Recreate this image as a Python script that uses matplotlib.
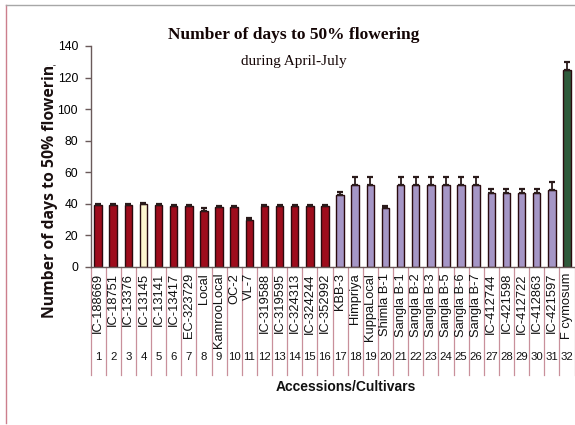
import matplotlib
matplotlib.use("Agg")
import matplotlib.pyplot as plt
from matplotlib.patches import Rectangle
from matplotlib.lines import Line2D

# Accessions / cultivars and days to 50% flowering (mean, upper error)
accessions = ["IC-188669", "IC-18751", "IC-13376", "IC-13145", "IC-13141", "IC-13417",
              "EC-323729", "Local", "KamrooLocal", "OC-2", "VL-7", "IC-319588",
              "IC-319595", "IC-324313", "IC-324244", "IC-352992", "KBB-3", "Himpriya",
              "KuppaLocal", "Shimla B-1", "Sangla B-1", "Sangla B-2", "Sangla B-3",
              "Sangla B-5", "Sangla B-6", "Sangla B-7", "IC-412744", "IC-421598",
              "IC-412722", "IC-412863", "IC-421597", "F cymosum"]
numbers = [str(i) for i in range(1, 33)]
days = [39, 39, 39, 39.5, 39, 38.5, 38.5, 35.6, 37.8, 38, 29.7, 38.5,
        38.5, 38.5, 38.5, 38.5, 45.5, 52, 52, 37, 52, 52, 52,
        52, 52, 52, 47, 47, 47, 47, 48.7, 125]
errors = [0.6, 0.6, 0.6, 0.6, 0.6, 0.6, 0.6, 1.9, 0.5, 0.5, 1.4, 0.6,
          0.6, 0.6, 0.6, 0.6, 2.1, 5.1, 5.1, 1.5, 5.1, 5.1, 5.1,
          5.1, 5.1, 5.1, 2.1, 2.1, 2.1, 2.1, 4.9, 4.8]
groups = ["red"] * 3 + ["pale"] + ["red"] * 12 + ["lav"] * 15 + ["green"]
yticks = [0, 20, 40, 60, 80, 100, 120, 140]

palette = {"red": "#9e0c1c", "pale": "#fdf6cf", "lav": "#a596c6", "green": "#2f5a3b"}
colors = [palette[g] for g in groups]

W, H = 575, 425
fig = plt.figure(figsize=(W / 100, H / 100), dpi=100)
fig.patch.set_facecolor("white")

def fx(px):
    return px / W

def fy(py):
    return (H - py) / H

ax_left, ax_right, ax_top, ax_bot = 90.5, 574.5, 46, 266.7
ax = fig.add_axes([fx(ax_left), fy(ax_bot), fx(ax_right - ax_left), (ax_bot - ax_top) / H])

x = list(range(len(days)))
ax.bar(x, days, width=0.5, color=colors, edgecolor="#2a0a0e", linewidth=1.0, zorder=2)
ax.errorbar(x, days, yerr=[[0] * len(errors), errors], fmt="none",
            ecolor="#2a1a1a", elinewidth=1.3, capsize=2.2, capthick=1.6, zorder=3)

ax.set_xlim(-0.5, len(days) - 0.5)
ax.set_ylim(0, 140)
ax.set_yticks(yticks)
ax.set_xticks([])
ax.tick_params(axis="y", direction="out", length=4, width=1, color="#6a5a5a",
               labelsize=8.7, pad=5)
for lab in ax.get_yticklabels():
    lab.set_family("Liberation Sans")
for s in ["top", "right"]:
    ax.spines[s].set_visible(False)
for s in ["left", "bottom"]:
    ax.spines[s].set_color("#6a5a5a")
    ax.spines[s].set_linewidth(1.0)

# Category table under the axis
trans = ax.get_xaxis_transform()
span = ax_bot - ax_top
table_bottom = -(375 - ax_bot) / span
for i in range(len(days) + 1):
    ax.add_line(Line2D([i - 0.5, i - 0.5], [0, table_bottom], transform=trans,
                       color="#c9909b", linewidth=0.9, clip_on=False))
label_top = -(273 - ax_bot) / span
num_y = -(357 - ax_bot) / span
for i, (name, num) in enumerate(zip(accessions, numbers)):
    ax.text(i, label_top, name, transform=trans, rotation=90, ha="center", va="top",
            fontsize=9.3, family="Liberation Sans", color="#111111")
    ax.text(i, num_y, num, transform=trans, ha="center", va="center",
            fontsize=8.2, family="Liberation Sans", color="#111111")

# Titles and axis labels
fig.text(fx(294), fy(35), "Number of days to 50% flowering", ha="center", va="center",
         fontsize=12.5, fontweight="bold", family="Liberation Serif", color="#140505")
fig.text(fx(294), fy(62), "during April-July", ha="center", va="center",
         fontsize=11, family="Liberation Serif", color="#140505")
fig.text(fx(346), fy(387), "Accessions/Cultivars", ha="center", va="center",
         fontsize=10, fontweight="bold", family="Liberation Sans", color="#111111")

ylab = fig.text(fx(50), fy(318), "Number of days to 50% flowering", rotation=90,
                rotation_mode="anchor", ha="left", va="center", fontsize=11.3,
                fontweight="bold", family="Open Sans", color="#1a1010")
ylab.set_clip_path(Rectangle((0, 0), 1, fy(65), transform=fig.transFigure))

# Outer frame
fig.add_artist(Line2D([fx(6), fx(6)], [fy(5), fy(423)], transform=fig.transFigure,
                      color="#cc7f8d", linewidth=1.0))
fig.add_artist(Line2D([fx(6), fx(575)], [fy(5), fy(5)], transform=fig.transFigure,
                      color="#a7a7a7", linewidth=1.0))

fig.savefig("out.png", dpi=100)
